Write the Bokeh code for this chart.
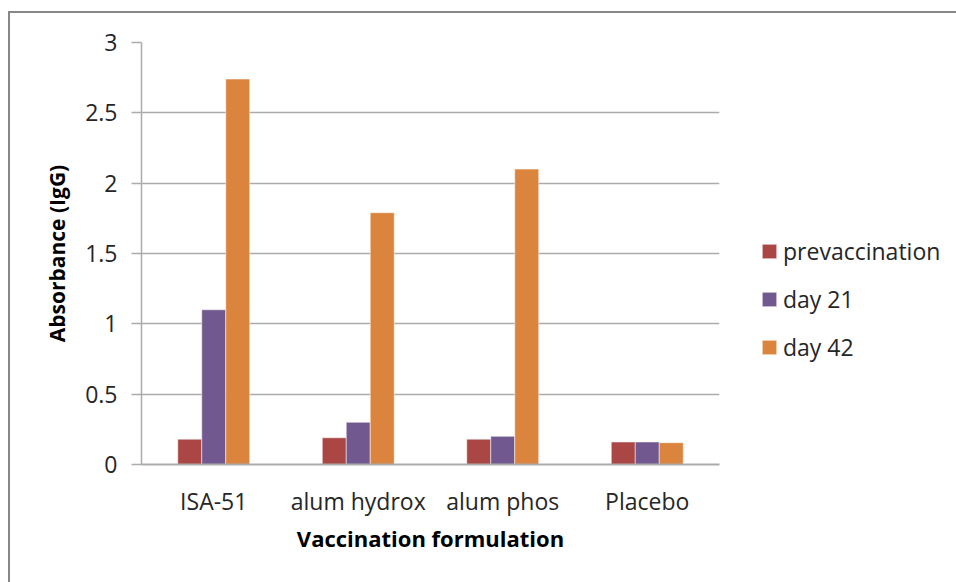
from bokeh.plotting import figure
from bokeh.models import FactorRange, Range1d, Legend, LegendItem, FixedTicker
from bokeh.transform import dodge
from bokeh.embed import file_html
from bokeh.resources import INLINE

# IgG absorbance by vaccine formulation and sampling time
formulations = ["ISA-51", "alum hydrox", "alum phos", "Placebo"]
prevaccination = [0.18, 0.19, 0.18, 0.16]
day_21 = [1.10, 0.30, 0.20, 0.16]
day_42 = [2.74, 1.79, 2.10, 0.155]
series_names = ["prevaccination", "day 21", "day 42"]
y_ticks = [0, 0.5, 1, 1.5, 2, 2.5, 3]
y_tick_labels = ["0", "0.5", "1", "1.5", "2", "2.5", "3"]

colors = ["#AA4643", "#71588F", "#DB843D"]
FONT = "Open Sans"
GRID = "#ABABAB"
TEXT = "#262626"

p = figure(
    x_range=FactorRange(*formulations, range_padding=0),
    y_range=Range1d(0, 3),
    frame_width=578, frame_height=422,
    output_backend="svg", toolbar_location=None,
    min_border_left=131, min_border_right=237,
    min_border_top=29, min_border_bottom=118,
)
# chart frame: grey rule along the top and left edges
p.styles = {
    "margin-left": "8px",
    "margin-top": "11px",
    "border-left": "2px solid #878787",
    "border-top": "2px solid #878787",
}
p.outline_line_color = None
p.background_fill_color = "white"
p.border_fill_color = "white"

data = dict(f=formulations, pre=prevaccination, d21=day_21, d42=day_42)
bw = 0.166
renderers = []
for col, off, c in zip(["pre", "d21", "d42"], [-bw, 0, bw], colors):
    r = p.vbar(x=dodge("f", off, range=p.x_range), top=col, width=bw, source=data,
               fill_color=c, line_color="white", line_alpha=0.5, line_width=1)
    renderers.append(r)

# grid
p.xgrid.grid_line_color = None
p.ygrid.grid_line_color = GRID
p.ygrid.grid_line_width = 1.5
p.ygrid.ticker = FixedTicker(ticks=y_ticks)

# y axis
ya = p.yaxis[0]
ya.ticker = FixedTicker(ticks=y_ticks)
ya.major_label_overrides = {t: s for t, s in zip(y_ticks, y_tick_labels)}
ya.axis_line_color = GRID
ya.axis_line_width = 1.5
ya.major_tick_line_color = GRID
ya.major_tick_line_width = 1.5
ya.major_tick_out = 10
ya.major_tick_in = 0
ya.minor_tick_line_color = None
ya.major_label_standoff = 14
ya.major_label_text_font = FONT
ya.major_label_text_font_size = "23px"
ya.major_label_text_color = TEXT
ya.axis_label = "Absorbance (IgG)"
ya.axis_label_text_font = FONT
ya.axis_label_text_font_size = "21px"
ya.axis_label_text_font_style = "bold"
ya.axis_label_text_color = "black"
ya.axis_label_standoff = 11

# x axis
xa = p.xaxis[0]
xa.axis_line_color = GRID
xa.axis_line_width = 2
xa.major_tick_line_color = None
xa.minor_tick_line_color = None
xa.major_label_standoff = 14
xa.major_label_text_font = FONT
xa.major_label_text_font_size = "23px"
xa.major_label_text_color = TEXT
xa.axis_label = "Vaccination formulation"
xa.axis_label_text_font = FONT
xa.axis_label_text_font_size = "22px"
xa.axis_label_text_font_style = "bold"
xa.axis_label_text_color = "black"
xa.axis_label_standoff = 3

# legend to the right of the plot area
legend = Legend(
    items=[LegendItem(label=n, renderers=[r]) for n, r in zip(series_names, renderers)],
    location=(41, 101),
    orientation="vertical",
    glyph_width=18, glyph_height=18,
    label_height=20, spacing=16, padding=0, margin=0,
    label_standoff=5,
    label_text_font=FONT, label_text_font_size="23px", label_text_color=TEXT,
    border_line_color=None, background_fill_alpha=0,
)
p.add_layout(legend, "right")

open("out.html", "w").write(file_html(p, INLINE))
